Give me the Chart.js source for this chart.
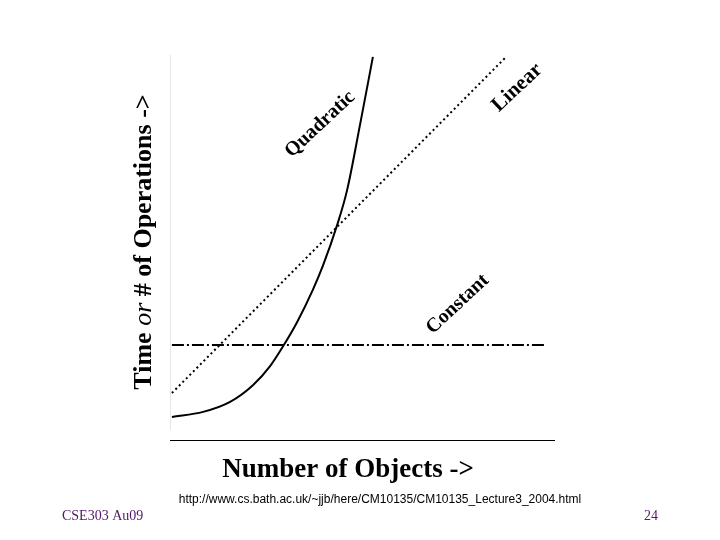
<!DOCTYPE html>
<html>
<head>
<meta charset="utf-8">
<script src="https://cdn.jsdelivr.net/npm/chart.js@4.4.1/dist/chart.umd.min.js"></script>
<style>
  body { margin: 0; background: #fff; }
  #wrap { position: relative; width: 720px; height: 540px; }
</style>
</head>
<body>
<div id="wrap"><canvas id="growthChart"></canvas></div>
<script>
// values (x: objects 0..10, y: operations 0..100)
const quadX = [0.05, 0.86, 1.56, 2.16, 2.60, 2.94, 3.30, 3.71, 3.97, 4.34, 4.60, 4.94, 5.27];
const quadY = [6.0, 7.3, 9.9, 14.3, 19.2, 24.4, 30.6, 39.0, 45.2, 55.8, 64.9, 82.1, 99.5];
const linX = [0.05, 8.7];
const linY = [12.2, 99.2];
const constX = [0.05, 9.74];
const constY = [24.7, 24.7];

const curveLabels = [
  { text: 'Quadratic', x: 3.9, y: 82, angle: -43, font: 'bold 20px "Liberation Serif"' },
  { text: 'Linear', x: 9.02, y: 91.5, angle: -43, font: 'bold 21px "Liberation Serif"' },
  { text: 'Constant', x: 7.47, y: 35.3, angle: -43, font: 'bold 20px "Liberation Serif"' }
];

function toPoints(xs, ys) {
  return xs.map((x, i) => ({ x: x, y: ys[i] }));
}

// axis rules, rotated labels and slide text
const slideDecor = {
  id: 'slideDecor',
  afterDatasetsDraw(chart) {
    const ctx = chart.ctx;
    const xs = chart.scales.x, ys = chart.scales.y;
    const left = xs.getPixelForValue(0), right = xs.getPixelForValue(10);
    const top = ys.getPixelForValue(100), bottom = ys.getPixelForValue(0);
    ctx.save();

    // faint y rule, black x rule
    ctx.strokeStyle = '#e6e6e6';
    ctx.lineWidth = 1;
    ctx.beginPath();
    ctx.moveTo(left + 0.5, top);
    ctx.lineTo(left + 0.5, bottom - 10);
    ctx.stroke();
    ctx.strokeStyle = '#000';
    ctx.beginPath();
    ctx.moveTo(left, bottom + 0.5);
    ctx.lineTo(right, bottom + 0.5);
    ctx.stroke();

    // curve names
    ctx.fillStyle = '#000';
    ctx.textAlign = 'center';
    ctx.textBaseline = 'middle';
    curveLabels.forEach(l => {
      ctx.save();
      ctx.translate(xs.getPixelForValue(l.x), ys.getPixelForValue(l.y));
      ctx.rotate(l.angle * Math.PI / 180);
      ctx.font = l.font;
      ctx.fillText(l.text, 0, 0);
      ctx.restore();
    });

    // y title with italic "or"
    const parts = [
      ['Time ', 'bold 26px "Liberation Serif"'],
      ['or', 'italic 26px "Liberation Serif"'],
      [' # of Operations ->', 'bold 26px "Liberation Serif"']
    ];
    let total = 0;
    parts.forEach(p => { ctx.font = p[1]; total += ctx.measureText(p[0]).width; });
    ctx.save();
    ctx.translate(144, 242);
    ctx.rotate(-Math.PI / 2);
    ctx.textAlign = 'left';
    let pos = -total / 2;
    parts.forEach(p => {
      ctx.font = p[1];
      ctx.fillText(p[0], pos, 0);
      pos += ctx.measureText(p[0]).width;
    });
    ctx.restore();

    // x title
    ctx.textAlign = 'center';
    ctx.font = 'bold 27px "Liberation Serif"';
    ctx.fillText('Number of Objects ->', 348, 470);

    // footer
    ctx.font = '12px "Liberation Sans"';
    ctx.fillText('http://www.cs.bath.ac.uk/~jjb/here/CM10135/CM10135_Lecture3_2004.html', 380, 500);
    ctx.fillStyle = '#54186a';
    ctx.font = '14px "Liberation Serif"';
    ctx.textAlign = 'left';
    ctx.fillText('CSE303 Au09', 62, 516);
    ctx.textAlign = 'right';
    ctx.fillText('24', 658, 516);
    ctx.restore();
  }
};

new Chart(document.getElementById('growthChart').getContext('2d'), {
  type: 'scatter',
  data: {
    datasets: [
      {
        label: 'Quadratic',
        data: toPoints(quadX, quadY),
        showLine: true,
        borderColor: '#000',
        borderWidth: 2,
        pointRadius: 0,
        cubicInterpolationMode: 'monotone'
      },
      {
        label: 'Linear',
        data: toPoints(linX, linY),
        showLine: true,
        borderColor: '#000',
        borderWidth: 2,
        borderDash: [2, 3],
        pointRadius: 0
      },
      {
        label: 'Constant',
        data: toPoints(constX, constY),
        showLine: true,
        borderColor: '#000',
        borderWidth: 2,
        borderDash: [12, 3, 2, 3],
        pointRadius: 0
      }
    ]
  },
  options: {
    responsive: true,
    maintainAspectRatio: false,
    animation: false,
    layout: { padding: { left: 170, right: 165, top: 55, bottom: 100 } },
    plugins: {
      legend: { display: false },
      tooltip: { enabled: false }
    },
    scales: {
      x: { type: 'linear', min: 0, max: 10, display: false },
      y: { type: 'linear', min: 0, max: 100, display: false }
    }
  },
  plugins: [slideDecor]
});
</script>
</body>
</html>
